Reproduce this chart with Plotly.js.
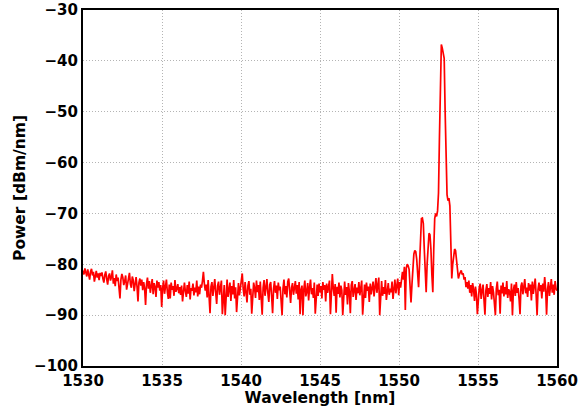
<!DOCTYPE html>
<html>
<head>
<meta charset="utf-8">
<script src="https://cdn.plot.ly/plotly-3.0.1.min.js"></script>
<style>
  html, body { margin: 0; padding: 0; background: #ffffff; }
  #chart { width: 580px; height: 407px; }
</style>
</head>
<body>
<div id="chart"></div>
<script>
// Optical spectrum, sampled every 0.06 nm starting at 1530 nm
const startWavelength = 1530;   // nm
const sampleStep = 0.06;        // nm

// 1530.00 – 1537.44 nm: noise floor drifting down from about -82 dBm/nm
const powerFloorLeft = [
  -81.2, -82.0, -80.8, -81.6, -82.4, -81.0, -81.9, -83.0, -81.4, -80.9,
  -82.2, -81.5, -83.4, -82.0, -81.3, -82.6, -81.8, -83.1, -81.7, -82.3,
  -81.6, -82.8, -83.6, -82.1, -81.4, -82.9, -84.0, -82.3, -81.8, -83.2,
  -82.5, -81.2, -83.8, -82.7, -84.3, -82.0, -83.3, -82.6, -84.8, -86.7,
  -83.0, -81.9, -82.6, -84.1, -83.3, -82.2, -85.0, -83.6, -82.8, -81.7,
  -83.9, -84.6, -82.4, -83.1, -85.3, -83.8, -82.5, -84.4, -87.3, -83.6,
  -82.8, -84.2, -83.0, -85.1, -83.5, -84.7, -88.0, -83.9, -82.6, -84.8,
  -83.3, -85.6, -84.0, -82.9, -85.9, -83.7, -84.5, -86.4, -83.2, -84.6,
  -83.5, -85.2, -84.1, -88.4, -84.7, -83.2, -85.8, -84.4, -83.0, -85.5,
  -86.8, -84.0, -86.7, -83.6, -85.0, -84.3, -86.2, -83.1, -85.4, -84.8,
  -83.9, -85.7, -84.5, -86.0, -84.2, -87.3, -84.9, -83.6, -85.3, -86.4,
  -84.1, -85.8, -83.4, -86.9, -84.7, -85.2, -83.8, -86.1, -84.6, -85.5,
  -83.2, -86.3, -84.4, -85.9, -84.0
];

// 1537.50 – 1545.00 nm: flat noise floor near -85 dBm/nm
const powerFloorMiddle = [
  -84.6, -83.3, -81.5, -83.8, -85.2, -84.0, -86.5, -83.1, -85.7, -89.6,
  -84.4, -83.5, -86.2, -84.9, -82.9, -85.6, -87.8, -84.2, -83.4, -86.0,
  -84.7, -83.2, -89.8, -85.3, -84.1, -90.0, -84.8, -83.0, -86.4, -85.1,
  -83.6, -87.2, -84.3, -85.9, -83.1, -86.7, -84.5, -89.4, -85.0, -83.7,
  -86.1, -84.4, -83.0, -81.8, -84.9, -86.3, -83.5, -85.4, -87.5, -84.2,
  -83.3, -86.0, -84.8, -89.7, -85.2, -83.6, -84.7, -86.6, -83.2, -85.5,
  -84.1, -87.0, -83.4, -85.8, -89.9, -84.6, -83.1, -86.2, -84.9, -82.9,
  -85.7, -87.4, -84.0, -83.5, -86.3, -89.6, -84.8, -83.3, -85.6, -84.2,
  -86.8, -83.6, -85.1, -84.4, -87.2, -90.0, -84.7, -83.0, -85.9, -84.3,
  -86.5, -83.4, -82.8, -85.2, -87.6, -84.6, -83.7, -86.0, -84.9, -83.3,
  -85.8, -84.1, -86.9, -83.5, -89.8, -85.0, -84.2, -90.0, -84.8, -83.2,
  -86.3, -85.4, -83.7, -87.1, -84.5, -83.0, -85.9, -84.7, -86.6, -83.6,
  -89.7, -85.3, -84.0, -86.2, -83.8, -85.5
];

// 1545.06 – 1550.10 nm: noise floor just before the lasing line
const powerFloorBeforePeak = [
  -84.3, -86.7, -83.5, -85.0, -84.1, -87.3, -83.8, -85.6, -84.6, -83.2,
  -89.8, -85.2, -81.9, -84.7, -86.2, -83.9, -89.5, -84.4, -85.8, -83.6,
  -86.5, -84.2, -85.1, -90.0, -84.8, -83.4, -86.0, -84.5, -87.9, -83.7,
  -85.4, -89.6, -84.1, -83.3, -86.4, -85.0, -83.9, -87.0, -84.6, -85.7,
  -83.5, -86.1, -84.8, -83.2, -89.9, -85.3, -84.0, -86.6, -83.6, -85.2,
  -84.4, -87.4, -83.8, -85.9, -84.2, -83.4, -86.3, -84.9, -82.7, -85.6,
  -84.0, -82.6, -90.0, -84.7, -83.3, -86.2, -84.5, -85.8, -83.1, -87.0,
  -84.3, -83.7, -86.0, -84.8, -85.5, -83.4, -86.8, -84.1, -83.0, -85.7,
  -84.4, -82.8, -86.1, -83.5, -84.6
];

// 1550.16 – 1554.24 nm: side lobes, main line near 1552.7 nm and its shoulder
const powerPeakRegion = [
  -83.0, -81.5, -83.0, -80.5, -89.0, -80.8, -80.0, -80.3, -81.0, -83.5,
  -87.5, -84.0, -80.0, -78.0, -77.3, -77.5, -79.0, -82.0, -84.5, -80.0,
  -74.0, -71.0, -70.9, -72.0, -77.0, -83.0, -85.5, -80.0, -75.0, -73.9,
  -74.2, -77.0, -82.0, -85.5, -77.0, -71.0, -70.0, -70.6, -69.5, -66.0,
  -55.0, -42.0, -36.8, -37.5, -38.6, -39.5, -50.0, -62.0, -66.3, -67.5,
  -67.0, -68.5, -76.0, -82.8, -80.0, -78.0, -77.0, -77.3, -79.0, -82.0,
  -82.8, -82.0, -81.5, -81.2, -82.0, -81.8, -83.0, -82.5, -84.5
];

// 1554.30 – 1560.00 nm: noise floor after the line
const powerFloorRight = [
  -83.5, -84.8, -83.2, -85.6, -84.1, -86.3, -83.7, -85.0, -87.2, -84.4,
  -85.9, -89.8, -86.5, -84.6, -83.8, -86.8, -85.2, -84.0, -87.0, -89.9,
  -85.1, -83.9, -86.4, -84.7, -85.8, -83.5, -86.9, -84.3, -85.5, -87.6,
  -90.0, -84.8, -83.4, -86.1, -85.0, -89.7, -84.2, -85.7, -83.6, -86.3,
  -84.5, -85.9, -83.3, -86.6, -84.9, -85.4, -87.3, -83.8, -90.0, -85.1,
  -84.0, -86.2, -83.5, -85.6, -84.7, -86.8, -89.8, -84.3, -83.6, -85.9,
  -84.2, -82.9, -85.7, -84.6, -86.4, -83.7, -85.2, -84.0, -87.1, -83.4,
  -85.8, -84.5, -82.8, -86.0, -90.0, -84.9, -83.6, -85.3, -84.1, -86.7,
  -83.8, -85.4, -82.5, -84.7, -89.9, -85.0, -83.5, -86.2, -84.3, -82.9,
  -85.6, -84.0, -86.0, -83.3, -84.8, -85.2
];

// Axis ranges and tick positions
const xRange = [1530, 1560];
const yRange = [-100, -30];
const xTicks = [1530, 1535, 1540, 1545, 1550, 1555, 1560];
const yTicks = [-100, -90, -80, -70, -60, -50, -40, -30];

const power = [].concat(powerFloorLeft, powerFloorMiddle, powerFloorBeforePeak,
                        powerPeakRegion, powerFloorRight);

const tickFont = { family: 'DejaVu Sans, sans-serif', size: 15, color: '#000000', weight: 'bold' };
const titleFont = { family: 'DejaVu Sans, sans-serif', size: 15.5, color: '#000000', weight: 'bold' };

const trace = {
  type: 'scatter',
  mode: 'lines',
  x0: startWavelength,
  dx: sampleStep,
  y: power,
  line: { color: '#ff0000', width: 1.7 },
  hoverinfo: 'skip'
};

const axisCommon = {
  showline: true,
  linecolor: '#000000',
  linewidth: 2,
  mirror: true,
  showgrid: true,
  gridcolor: '#b4b4b4',
  griddash: '1px,2px',
  gridwidth: 1,
  zeroline: false,
  ticks: '',
  tickfont: tickFont
};

const layout = {
  width: 580,
  height: 407,
  margin: { l: 83, r: 23, t: 10, b: 41 },
  paper_bgcolor: '#ffffff',
  plot_bgcolor: '#ffffff',
  showlegend: false,
  xaxis: Object.assign({}, axisCommon, {
    range: xRange,
    tickmode: 'array',
    tickvals: xTicks,
    ticktext: xTicks.map(String),
    title: { text: 'Wavelength [nm]', font: titleFont, standoff: 0 }
  }),
  yaxis: Object.assign({}, axisCommon, {
    range: yRange,
    tickmode: 'array',
    tickvals: yTicks,
    ticktext: yTicks.map(v => String(v).replace('-', '\u2212')),
    title: { text: 'Power [dBm/nm]', font: titleFont, standoff: 5 }
  })
};

Plotly.newPlot('chart', [trace], layout, { staticPlot: true, displayModeBar: false });
</script>
</body>
</html>
